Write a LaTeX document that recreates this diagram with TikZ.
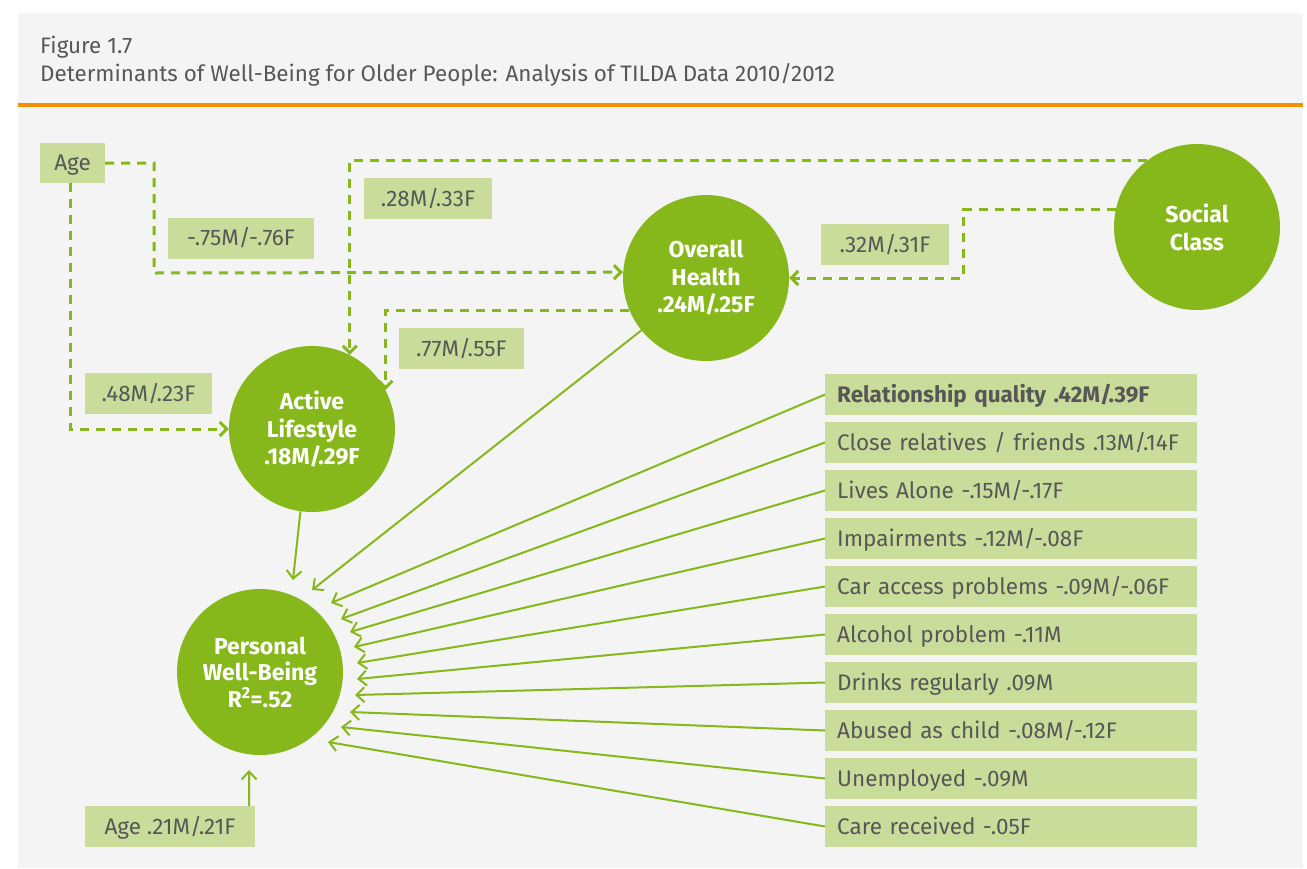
\documentclass[tikz,border=0pt]{standalone}
\usepackage{fontspec}
\setmainfont{Fira Sans}
\usetikzlibrary{arrows.meta,calc}
\definecolor{panel}{HTML}{F4F4F4}
\definecolor{rule}{HTML}{F39200}
\definecolor{bubblegreen}{HTML}{86B81B}
\definecolor{linegreen}{HTML}{86B81B}
\definecolor{boxfill}{HTML}{CADC9A}
\definecolor{txt}{HTML}{575757}
\begin{document}
\begin{tikzpicture}[x=1pt,y=-1pt,
  lbl/.style={fill=boxfill, text=txt, inner sep=0pt, minimum height=41pt,
    text height=15.5pt, text depth=0pt, font=\fontsize{22.5}{26}\selectfont},
  row/.style={lbl, anchor=west, text width=348pt, inner xsep=12pt, align=left},
  bubble/.style={circle, fill=bubblegreen, minimum size=166pt, inner sep=0pt,
    text=white, align=center, font=\bfseries\fontsize{23}{27.5}\selectfont},
  dline/.style={draw=linegreen, line width=3pt, dash pattern=on 9pt off 7pt,
    -{Straight Barb[length=7pt,width=14pt]}},
  sline/.style={draw=linegreen, line width=2pt,
    -{Straight Barb[length=8pt,width=15pt]}},
  head/.style={anchor=base west, inner sep=0pt, text=txt, font=\fontsize{22.4}{26}\selectfont}]
\useasboundingbox (0,0) rectangle (1307,868);
\fill[white] (0,0) rectangle (1307,868);
\fill[panel] (18,13) rectangle (1303,868);
\fill[rule] (18,103.3) rectangle (1303,106.7);

% heading
\node[head] (fig) at (40,53) {Figure 1.7};
\node[head] (sub) at (40,81) {Determinants of Well-Being for Older People: Analysis of TILDA Data 2010/2012};

% circles
\node[bubble] (oh) at (706,278) {Overall\\Health\\.24M/.25F};
\node[bubble] (al) at (312,429) {Active\\Lifestyle\\.18M/.29F};
\node[bubble, font=\bfseries\fontsize{23}{26.5}\selectfont] (pwb) at (260,672) {Personal\\Well-Being\\R\textsuperscript{2}=.52};
\node[bubble, font=\bfseries\fontsize{23}{28}\selectfont] (sc) at (1197,227) {Social\\Class};

% coefficient labels
\node[lbl, minimum width=65pt, minimum height=40pt] (age) at (72.5,163) {Age};
\node[lbl, minimum width=146pt] (b75) at (241,238) {-.75M/-.76F};
\node[lbl, minimum width=128pt] (b28) at (428,198.5) {.28M/.33F};
\node[lbl, minimum width=125pt] (b77) at (461.5,348.5) {.77M/.55F};
\node[lbl, minimum width=127pt] (b48) at (148.5,393.5) {.48M/.23F};
\node[lbl, minimum width=128pt] (b32) at (885,244.5) {.32M/.31F};
\node[lbl, minimum width=170pt] (age21) at (170,826.5) {Age .21M/.21F};

% predictors on the right
\node[row] (r0) at (825,394.5) {\textbf{Relationship quality .42M/.39F}};
\node[row] (r1) at (825,442.5) {Close relatives / friends .13M/.14F};
\node[row] (r2) at (825,490.5) {Lives Alone -.15M/-.17F};
\node[row] (r3) at (825,538.5) {Impairments -.12M/-.08F};
\node[row] (r4) at (825,586.5) {Car access problems -.09M/-.06F};
\node[row] (r5) at (825,634.5) {Alcohol problem -.11M};
\node[row] (r6) at (825,682.5) {Drinks regularly .09M};
\node[row] (r7) at (825,730.5) {Abused as child -.08M/-.12F};
\node[row] (r8) at (825,778.5) {Unemployed -.09M};
\node[row] (r9) at (825,826.5) {Care received -.05F};

% dashed paths
\draw[dline] (age.east) -| (154,273) -- (oh.176.5);
\draw[dline] ([xshift=-2.5pt]age.south) |- (al.west);
\draw[dline] (sc.127.3) -| (al.63.5);
\draw[dline] (oh.203.4) -| (al.28.4);
\draw[dline] (sc.168.9) -| ($(oh.east)+(174,0)$) -- (oh.east);

% arrow ends around Personal Well-Being
\coordinate (tal) at (293,580);
\coordinate (toh) at (312,590);
\coordinate (t0) at (331,603);
\coordinate (t1) at (341,619);
\coordinate (t2) at (350,632);
\coordinate (t3) at (354,647);
\coordinate (t4) at (357,663);
\coordinate (t5) at (357,679);
\coordinate (t6) at (355,695);
\coordinate (t7) at (350,712);
\coordinate (t8) at (341,727);
\coordinate (t9) at (328,742);
\coordinate (tage) at (249,770);

% solid arrows
\draw[sline] (al.262.4) -- (tal);
\draw[sline] (oh.219.5) -- (toh);
\draw[sline] (r0.west) -- (t0);
\draw[sline] (r1.west) -- (t1);
\draw[sline] (r2.west) -- (t2);
\draw[sline] (r3.west) -- (t3);
\draw[sline] (r4.west) -- (t4);
\draw[sline] (r5.west) -- (t5);
\draw[sline] (r6.west) -- (t6);
\draw[sline] (r7.west) -- (t7);
\draw[sline] (r8.west) -- (t8);
\draw[sline] (r9.west) -- (t9);
\draw[sline] ($(age21.north east)+(-6,0)$) -- (tage);
\end{tikzpicture}
\end{document}
